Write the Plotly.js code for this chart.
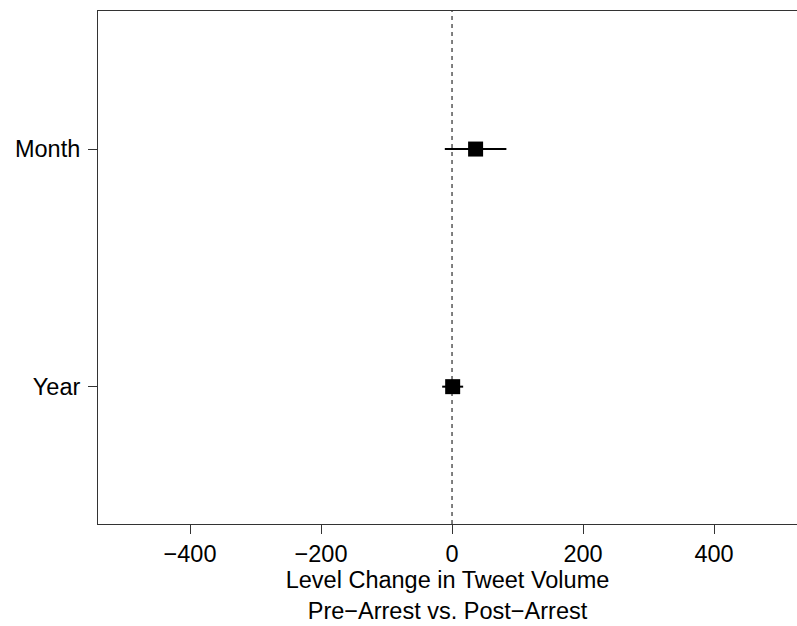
<!DOCTYPE html>
<html>
<head>
<meta charset="utf-8">
<script src="https://cdn.plot.ly/plotly-3.0.1.min.js"></script>
<style>html,body{margin:0;padding:0;background:#fff;}#chart{width:797px;height:626px;}</style>
</head>
<body>
<div id="chart"></div>
<script>
// Data
const categories = ["Year", "Month"];
const estimates = [1, 36];
const ciLower = [-15, -11];
const ciUpper = [17, 83];
const xTickVals = [-400, -200, 0, 200, 400];
const xTitle = "Level Change in Tweet Volume<br>Pre\u2212Arrest vs. Post\u2212Arrest";

const font = {family: "Liberation Sans, Arial, Helvetica, sans-serif", size: 23.5, color: "#000"};

const trace = {
  type: "scatter",
  mode: "markers",
  x: estimates,
  y: categories,
  marker: {symbol: "square", size: 15, color: "#000"},
  error_x: {
    type: "data",
    symmetric: false,
    array: estimates.map((e, i) => ciUpper[i] - e),
    arrayminus: estimates.map((e, i) => e - ciLower[i]),
    color: "#000",
    thickness: 2,
    width: 0
  },
  hoverinfo: "x+y",
  showlegend: false
};

const layout = {
  width: 797,
  height: 626,
  margin: {l: 98, r: 0, t: 11, b: 102, pad: 0},
  paper_bgcolor: "#fff",
  plot_bgcolor: "#fff",
  font: font,
  xaxis: {
    range: [-540.5, 526.7],
    tickvals: xTickVals,
    ticks: "outside",
    ticklen: 9,
    tickwidth: 1,
    tickcolor: "#333",
    showline: true,
    linecolor: "#333",
    linewidth: 1,
    mirror: true,
    showgrid: false,
    zeroline: false,
    tickfont: font,
    automargin: false,
    title: {text: xTitle, font: font, standoff: 5}
  },
  yaxis: {
    type: "category",
    categoryorder: "array",
    categoryarray: categories,
    range: [-0.578, 1.581],
    ticks: "outside",
    ticklen: 9,
    tickwidth: 1,
    tickcolor: "#333",
    ticklabelstandoff: 3,
    showline: true,
    linecolor: "#333",
    linewidth: 1,
    mirror: false,
    showgrid: false,
    zeroline: false,
    tickfont: font,
    automargin: false
  },
  shapes: [{
    type: "line",
    xref: "x", yref: "paper",
    x0: 0, x1: 0, y0: 0, y1: 1,
    line: {color: "#000", width: 1, dash: "4px,4px"},
    layer: "below"
  }]
};

Plotly.newPlot("chart", [trace], layout, {displayModeBar: false, staticPlot: true});
</script>
</body>
</html>
